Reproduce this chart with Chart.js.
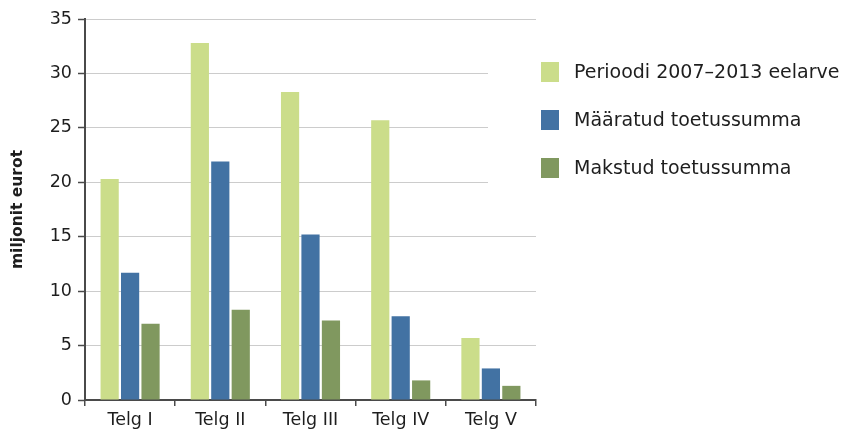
<!DOCTYPE html>
<html>
<head>
<meta charset="utf-8">
<script src="https://cdn.jsdelivr.net/npm/chart.js@4"></script>
<style>
  body { margin: 0; background: #fff; }
</style>
</head>
<body>
<canvas id="chart" width="841" height="432"></canvas>
<script>
// data
const categories = ['Telg I', 'Telg II', 'Telg III', 'Telg IV', 'Telg V'];
const seriesNames = ['Perioodi 2007–2013 eelarve', 'Määratud toetussumma', 'Makstud toetussumma'];
const budget = [20.3, 32.8, 28.3, 25.7, 5.7];
const assigned = [11.7, 21.9, 15.2, 7.7, 2.9];
const paid = [7.0, 8.3, 7.3, 1.8, 1.3];
const yTicks = [0, 5, 10, 15, 20, 25, 30, 35];

const colors = ['#cbdd8a', '#4272a3', '#80985f'];
const font = '"DejaVu Sans", sans-serif';

// legend on the right, drawn by hand so it sits like the original
const sideLegend = {
  id: 'sideLegend',
  beforeDatasetsDraw(chart) {
    const { ctx, chartArea } = chart;
    ctx.save();
    ctx.fillStyle = '#fff';
    ctx.fillRect(chartArea.right - 48, chartArea.top + 10, 48, 180);
    ctx.restore();
  },
  afterDraw(chart) {
    const { ctx, chartArea } = chart;
    ctx.save();
    ctx.font = '19px ' + font;
    ctx.textBaseline = 'middle';
    chart.data.datasets.forEach((ds, i) => {
      const y = 72 + i * 48;
      ctx.fillStyle = ds.backgroundColor;
      ctx.fillRect(chartArea.right + 5, y - 10, 18, 20);
      ctx.fillStyle = '#1e1e1e';
      ctx.fillText(ds.label, chartArea.right + 38, y + 1);
    });
    ctx.restore();
  }
};

new Chart(document.getElementById('chart'), {
  type: 'bar',
  data: {
    labels: categories,
    datasets: [
      { label: seriesNames[0], data: budget, backgroundColor: colors[0] },
      { label: seriesNames[1], data: assigned, backgroundColor: colors[1] },
      { label: seriesNames[2], data: paid, backgroundColor: colors[2] },
    ],
  },
  options: {
    responsive: false,
    animation: false,
    layout: { padding: { top: 19, right: 305, left: 0, bottom: 0 } },
    datasets: { bar: { categoryPercentage: 0.68, barPercentage: 0.89 } },
    plugins: {
      legend: { display: false },
      tooltip: { enabled: false },
    },
    scales: {
      x: {
        grid: {
          drawOnChartArea: false,
          color: '#4a4a4a',
          tickLength: 6,
          lineWidth: 1.5,
        },
        border: { color: '#4a4a4a', width: 2 },
        ticks: { color: '#1e1e1e', font: { family: font, size: 17.5 }, padding: 4 },
        afterFit: s => { s.height = 32; },
      },
      y: {
        min: 0,
        max: 35,
        afterBuildTicks: s => { s.ticks = yTicks.map(v => ({ value: v })); },
        grid: {
          color: '#cccccc',
          lineWidth: 1,
          borderDash: [2, 1],
          tickColor: '#4a4a4a',
          tickLength: 7,
          tickWidth: 1.5,
          tickBorderDash: [],
        },
        border: { color: '#4a4a4a', width: 2 },
        ticks: { color: '#1e1e1e', font: { family: font, size: 17.5 }, padding: 6 },
        title: {
          display: true,
          text: 'miljonit eurot',
          color: '#1e1e1e',
          font: { family: font, size: 15.5, weight: 'bold' },
          padding: { top: 9, bottom: 4 },
        },
        afterFit: s => { s.width = 85; },
      },
    },
  },
  plugins: [sideLegend],
});
</script>
</body>
</html>
